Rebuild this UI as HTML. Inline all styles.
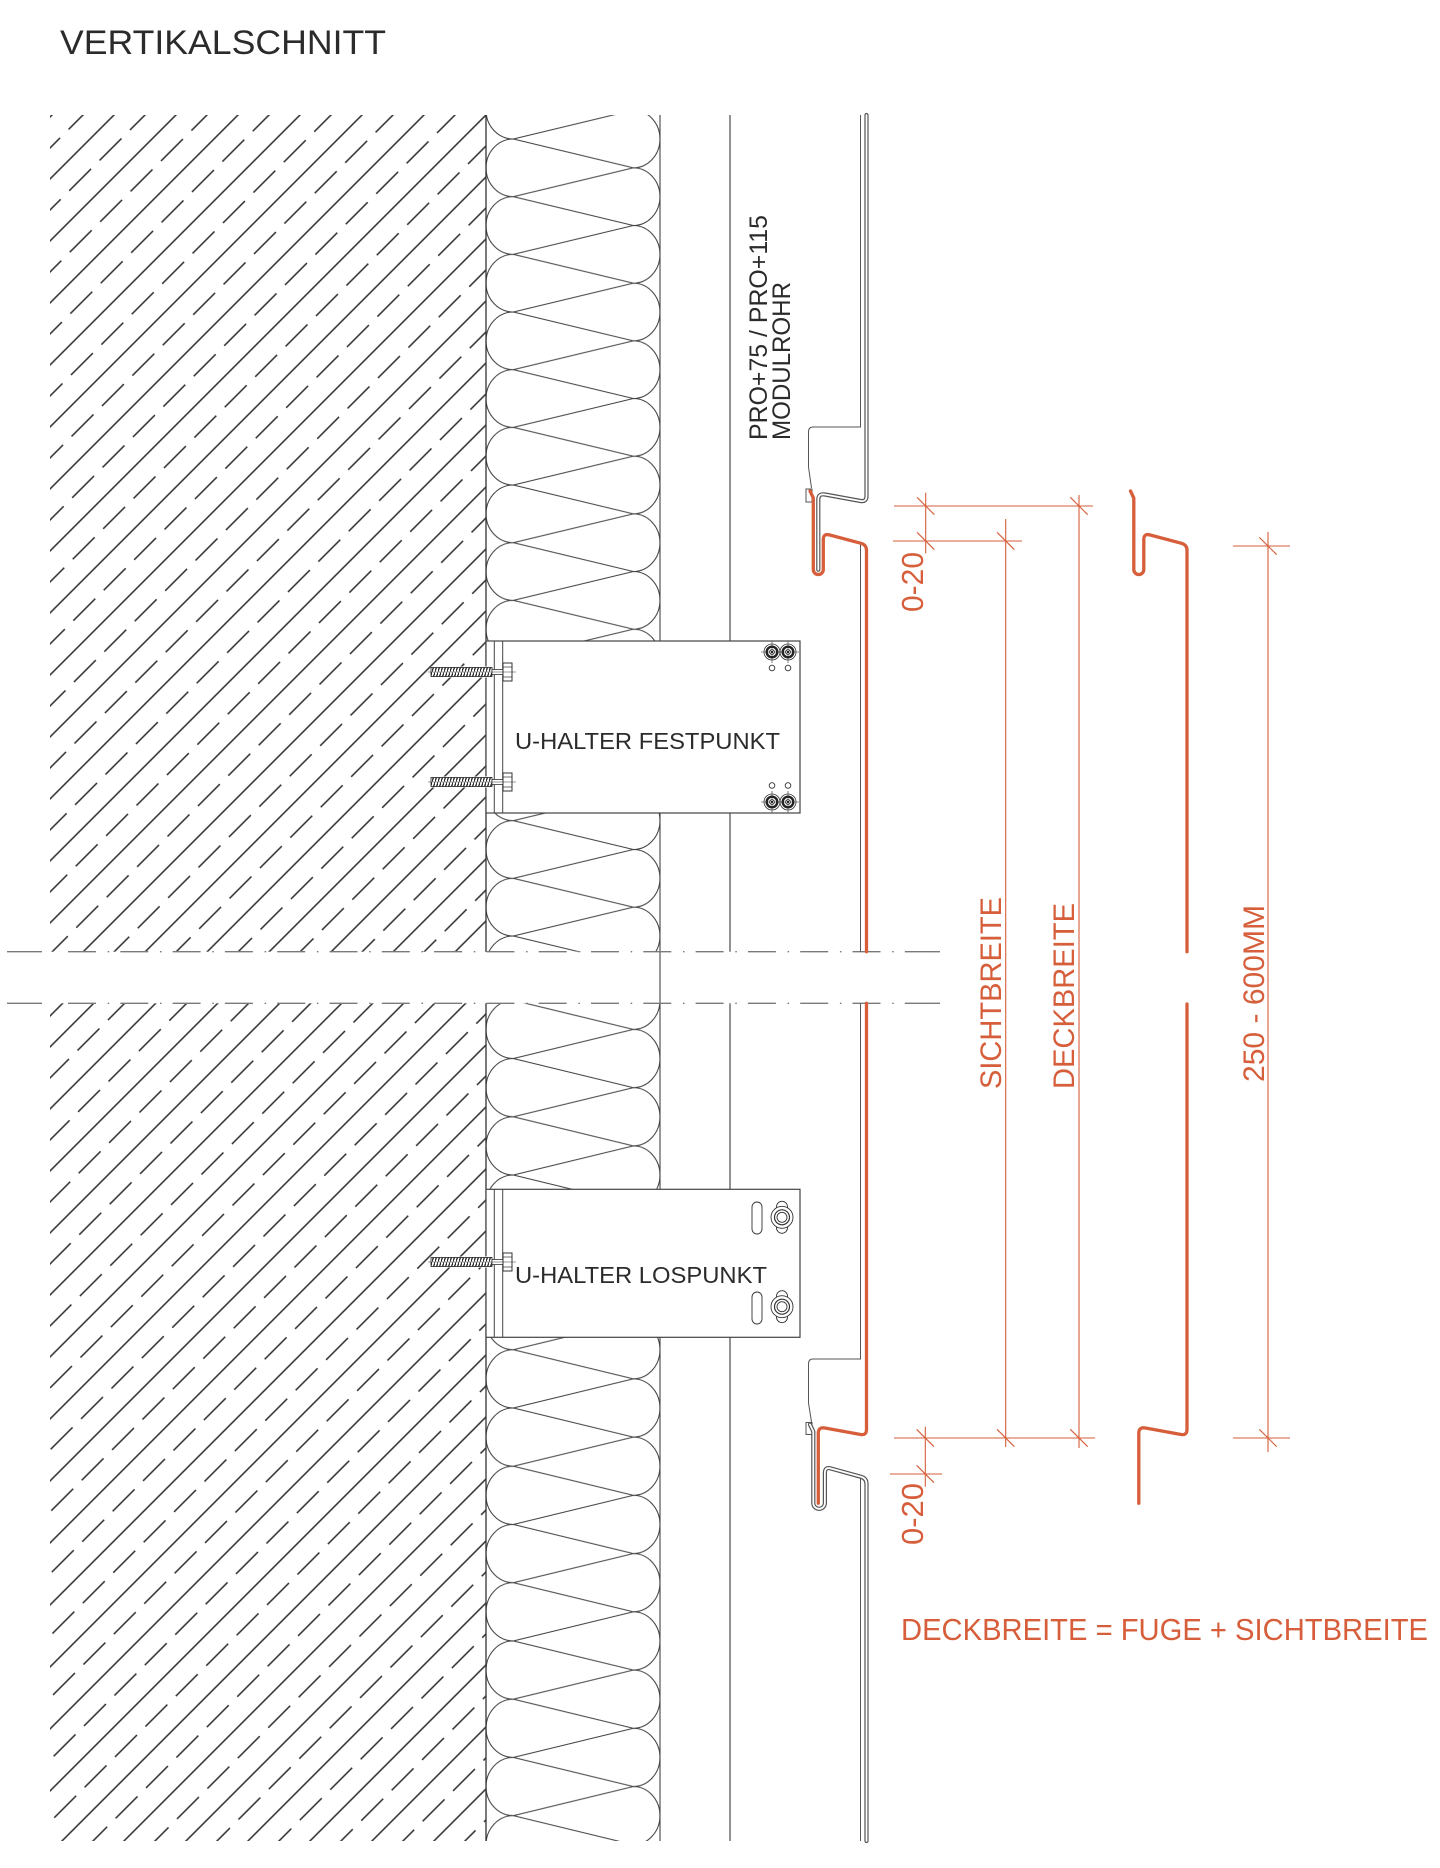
<!DOCTYPE html>
<html>
<head>
<meta charset="utf-8">
<style>
html,body{margin:0;padding:0;background:#fff;width:1440px;height:1868px;overflow:hidden}
svg{display:block}
text{font-family:"Liberation Sans", Arial, sans-serif;}
</style>
</head>
<body>
<svg width="1440" height="1868" viewBox="0 0 1440 1868" xmlns="http://www.w3.org/2000/svg">
<defs>
  <pattern id="hatch" patternUnits="userSpaceOnUse" x="0" y="0" width="43" height="43.84" patternTransform="rotate(-45)">
    <line x1="-1" y1="30.4" x2="44" y2="30.4" stroke="#2a2a2a" stroke-width="1.5"/>
    <line x1="0" y1="8.5" x2="31" y2="8.5" stroke="#2a2a2a" stroke-width="1.5"/>
  </pattern>
  <pattern id="insA" patternUnits="userSpaceOnUse" x="486" y="139" width="174" height="57.67">
    <path d="M27.3,0 L147.3,28.835 L27.3,57.67 M27.3,0 A27.3,28.835 0 0 0 27.3,57.67 M147.3,-28.835 A26.7,28.835 0 0 1 147.3,28.835 A26.7,28.835 0 0 1 147.3,86.505" fill="none" stroke="#444" stroke-width="1.1"/>
  </pattern>
  <pattern id="insB" patternUnits="userSpaceOnUse" x="486" y="936" width="174" height="57.67">
    <path d="M27.3,0 L147.3,28.835 L27.3,57.67 M27.3,0 A27.3,28.835 0 0 0 27.3,57.67 M147.3,-28.835 A26.7,28.835 0 0 1 147.3,28.835 A26.7,28.835 0 0 1 147.3,86.505" fill="none" stroke="#444" stroke-width="1.1"/>
  </pattern>
  <pattern id="insC" patternUnits="userSpaceOnUse" x="486" y="1000.3" width="174" height="58.24">
    <path d="M27.3,0 L147.3,29.12 L27.3,58.24 M27.3,0 A27.3,29.12 0 0 0 27.3,58.24 M147.3,-29.12 A26.7,29.12 0 0 1 147.3,29.12 A26.7,29.12 0 0 1 147.3,87.36" fill="none" stroke="#444" stroke-width="1.1"/>
  </pattern>
  <pattern id="thr" patternUnits="userSpaceOnUse" x="0" y="0" width="3" height="9">
    <line x1="-0.5" y1="9.5" x2="3.5" y2="-0.5" stroke="#222" stroke-width="1.3"/>
  </pattern>
  <g id="screw">
    <rect x="431" y="-5.5" width="61" height="11" fill="#fff"/>
    <rect x="431" y="-4.5" width="61" height="9" fill="url(#thr)" stroke="#222" stroke-width="0.8"/>
    <rect x="492" y="-2.5" width="11" height="5" fill="#fff" stroke="#333" stroke-width="0.8"/>
    <rect x="503" y="-9" width="9" height="18" fill="#fff" stroke="#333" stroke-width="1"/>
    <line x1="503" y1="-5" x2="512" y2="-5" stroke="#333" stroke-width="0.7"/>
    <line x1="503" y1="5" x2="512" y2="5" stroke="#333" stroke-width="0.7"/>
    <line x1="428" y1="0" x2="516" y2="0" stroke="#333" stroke-width="0.6"/>
  </g>
  <g id="bolt">
    <line x1="-11" y1="0" x2="11" y2="0" stroke="#333" stroke-width="0.6"/>
    <line x1="0" y1="-11" x2="0" y2="11" stroke="#333" stroke-width="0.6"/>
    <circle r="8" fill="none" stroke="#333" stroke-width="0.8"/>
    <circle r="5.3" fill="none" stroke="#222" stroke-width="2.4"/>
    <circle r="2.3" fill="#fff" stroke="#222" stroke-width="1"/>
    <rect x="-1" y="-1" width="2" height="2" fill="#222"/>
  </g>
  <g id="nut">
    <rect x="-5.5" y="-16" width="11" height="32" rx="5.5" fill="#fff" stroke="#333" stroke-width="0.9"/>
    <circle r="11" fill="#fff" stroke="#333" stroke-width="0.9"/>
    <circle r="7.5" fill="none" stroke="#333" stroke-width="1.2"/>
    <circle r="5" fill="none" stroke="#333" stroke-width="0.9"/>
  </g>
</defs>

<!-- Title -->
<text x="60" y="54" font-size="34.5" textLength="326" lengthAdjust="spacingAndGlyphs" fill="#2b2b2b">VERTIKALSCHNITT</text>

<!-- Concrete hatch -->
<rect x="50" y="115" width="436" height="836.7" fill="url(#hatch)"/>
<rect x="50" y="1003.3" width="436" height="837.7" fill="url(#hatch)"/>

<!-- Insulation -->
<rect x="486" y="115" width="174" height="526" fill="url(#insA)"/>
<rect x="486" y="813" width="174" height="138.7" fill="url(#insB)"/>
<rect x="486" y="1003.3" width="174" height="837.7" fill="url(#insC)"/>

<!-- Structural vertical lines -->
<g fill="none">
  <line x1="486" y1="115" x2="486" y2="951.7" stroke="#333" stroke-width="1.3"/>
  <line x1="486" y1="1003.3" x2="486" y2="1841" stroke="#333" stroke-width="1.3"/>
  <line x1="660" y1="115" x2="660" y2="1841" stroke="#444" stroke-width="1.1"/>
  <line x1="730" y1="115" x2="730" y2="951.7" stroke="#777" stroke-width="1.6"/>
  <line x1="730" y1="1003.3" x2="730" y2="1841" stroke="#777" stroke-width="1.6"/>
</g>

<!-- Break lines (dash-dot) -->
<g stroke="#7a7a7a" stroke-width="1.4" fill="none">
  <line x1="7" y1="951.7" x2="42" y2="951.7"/>
  <line x1="68" y1="951.7" x2="940" y2="951.7" stroke-dasharray="28 11.7 1.5 11.1"/>
  <line x1="932" y1="951.7" x2="940" y2="951.7"/>
  <line x1="7" y1="1003.3" x2="42" y2="1003.3"/>
  <line x1="68" y1="1003.3" x2="940" y2="1003.3" stroke-dasharray="28 11.7 1.5 11.1"/>
  <line x1="932" y1="1003.3" x2="940" y2="1003.3"/>
</g>

<!-- Bracket Festpunkt -->
<rect x="486" y="641" width="314" height="172" fill="#fff" stroke="#444" stroke-width="1.2"/>
<line x1="494.3" y1="641" x2="494.3" y2="813" stroke="#444" stroke-width="1"/>
<line x1="502.7" y1="641" x2="502.7" y2="813" stroke="#444" stroke-width="1"/>
<use href="#screw" transform="translate(0,672)"/>
<use href="#screw" transform="translate(0,782)"/>
<use href="#bolt" transform="translate(772,652)"/>
<use href="#bolt" transform="translate(788,652)"/>
<use href="#bolt" transform="translate(772,802)"/>
<use href="#bolt" transform="translate(788,802)"/>
<g fill="none" stroke="#333" stroke-width="0.9">
  <circle cx="772" cy="668" r="2.8"/>
  <circle cx="788" cy="668" r="2.8"/>
  <circle cx="772" cy="785.5" r="2.8"/>
  <circle cx="788" cy="785.5" r="2.8"/>
</g>
<text x="515" y="749" font-size="23.5" textLength="265" lengthAdjust="spacingAndGlyphs" fill="#2b2b2b">U-HALTER FESTPUNKT</text>

<!-- Bracket Lospunkt -->
<rect x="486" y="1189.3" width="314" height="148" fill="#fff" stroke="#444" stroke-width="1.2"/>
<line x1="494.3" y1="1189.3" x2="494.3" y2="1337.3" stroke="#444" stroke-width="1"/>
<line x1="502.7" y1="1189.3" x2="502.7" y2="1337.3" stroke="#444" stroke-width="1"/>
<use href="#screw" transform="translate(0,1262)"/>
<rect x="752" y="1202" width="10" height="32" rx="5" fill="#fff" stroke="#333" stroke-width="0.9"/>
<rect x="752" y="1292" width="10" height="32" rx="5" fill="#fff" stroke="#333" stroke-width="0.9"/>
<use href="#nut" transform="translate(782,1217.3)"/>
<use href="#nut" transform="translate(782,1306.7)"/>
<text x="515" y="1283" font-size="23.5" textLength="252" lengthAdjust="spacingAndGlyphs" fill="#2b2b2b">U-HALTER LOSPUNKT</text>

<!-- Modulrohr label -->
<text transform="translate(767,440) rotate(-90)" font-size="25" textLength="225" lengthAdjust="spacingAndGlyphs" fill="#2b2b2b">PRO+75 / PRO+115</text>
<text transform="translate(790,440) rotate(-90)" font-size="25" textLength="158" lengthAdjust="spacingAndGlyphs" fill="#2b2b2b">MODULROHR</text>

<!-- Panel clip thin lines -->
<g fill="none" stroke="#555" stroke-width="1">
  <path d="M860.5,115 V427 H813 Q808.5,427 808.5,432 V467 L811.5,488"/>
  <rect x="806" y="489" width="6" height="13" fill="#fff"/>
  <line x1="860.5" y1="543" x2="860.5" y2="951.7"/>
  <path d="M860.5,1003.3 V1359 H813 Q808.5,1359 808.5,1364 V1403 L811.5,1422"/>
  <rect x="806" y="1422.5" width="6" height="12" fill="#fff"/>
  <line x1="860.5" y1="1477" x2="860.5" y2="1841"/>
</g>

<!-- Upper gray panel (double line) -->
<g fill="none" stroke-linecap="round" stroke-linejoin="round">
  <path d="M866.5,115 V496 Q866.5,502 860.6,501 L825,494.5 Q818.3,493.3 818.3,499.5 V569.8" stroke="#555" stroke-width="4.2"/>
  <path d="M866.5,115 V496 Q866.5,502 860.6,501 L825,494.5 Q818.3,493.3 818.3,499.5 V569.8" stroke="#fff" stroke-width="1.8"/>
  <!-- Lower gray panel -->
  <path d="M810,1424.5 L813.3,1431.5 V1503 A5.8,5.8 0 0 0 824.9,1503 V1473 Q824.9,1466.8 830.5,1468.4 L861,1476.8 Q866.5,1478.3 866.5,1484 V1841" stroke="#555" stroke-width="4.2"/>
  <path d="M810,1424.5 L813.3,1431.5 V1503 A5.8,5.8 0 0 0 824.9,1503 V1473 Q824.9,1466.8 830.5,1468.4 L861,1476.8 Q866.5,1478.3 866.5,1484 V1841" stroke="#fff" stroke-width="1.8"/>
</g>

<!-- Orange panel (main) -->
<path d="M810,491 L813.3,498 V569.5 A5,5 0 0 0 823.3,569.5 V539.5 Q823.3,533.3 829.3,534.9 L861,543.3 Q866.5,544.8 866.5,550.5 V951.7 M866.5,1003.3 V1429.5 Q866.5,1435.5 860.6,1434.5 L825,1428 Q818.3,1426.8 818.3,1433 V1503.3" fill="none" stroke="#D65E3A" stroke-width="3.3" stroke-linecap="round" stroke-linejoin="round"/>

<!-- Orange panel (right profile) -->
<path d="M1130.5,491 L1133.8,498 V569.5 A5,5 0 0 0 1143.8,569.5 V539.5 Q1143.8,533.3 1149.8,534.9 L1181.5,543.3 Q1187,544.8 1187,550.5 V951.7 M1187,1004 V1429.5 Q1187,1435.5 1181.1,1434.5 L1145.5,1428 Q1138.8,1426.8 1138.8,1433 V1503.3" fill="none" stroke="#D65E3A" stroke-width="3.3" stroke-linecap="round" stroke-linejoin="round"/>

<!-- Dimension lines -->
<g stroke="#D65E3A" stroke-width="1.1" fill="none">
  <line x1="894" y1="506" x2="1093" y2="506"/>
  <line x1="893" y1="541" x2="1022" y2="541"/>
  <line x1="894" y1="1438" x2="1095" y2="1438"/>
  <line x1="890" y1="1474" x2="942" y2="1474"/>
  <line x1="1233" y1="546" x2="1290" y2="546"/>
  <line x1="1233" y1="1438" x2="1290" y2="1438"/>
  <line x1="925.7" y1="492.7" x2="925.7" y2="553.3"/>
  <line x1="1005.7" y1="519" x2="1005.7" y2="1447"/>
  <line x1="1079" y1="495" x2="1079" y2="1448"/>
  <line x1="925.3" y1="1426.7" x2="925.3" y2="1486.7"/>
  <line x1="1268" y1="532" x2="1268" y2="1452"/>
  <!-- ticks -->
  <line x1="917" y1="497.3" x2="934.4" y2="514.7"/>
  <line x1="1070.3" y1="497.3" x2="1087.7" y2="514.7"/>
  <line x1="917" y1="532.3" x2="934.4" y2="549.7"/>
  <line x1="997" y1="532.3" x2="1014.4" y2="549.7"/>
  <line x1="916.6" y1="1429.3" x2="934" y2="1446.7"/>
  <line x1="997" y1="1429.3" x2="1014.4" y2="1446.7"/>
  <line x1="1070.3" y1="1429.3" x2="1087.7" y2="1446.7"/>
  <line x1="916.6" y1="1465.3" x2="934" y2="1482.7"/>
  <line x1="1259.3" y1="537.3" x2="1276.7" y2="554.7"/>
  <line x1="1259.3" y1="1429.3" x2="1276.7" y2="1446.7"/>
</g>

<!-- Dimension texts -->
<g fill="#D65E3A">
  <text transform="translate(923,612) rotate(-90)" font-size="31" textLength="60" lengthAdjust="spacingAndGlyphs">0-20</text>
  <text transform="translate(923,1545) rotate(-90)" font-size="31" textLength="62" lengthAdjust="spacingAndGlyphs">0-20</text>
  <text transform="translate(1001,1089) rotate(-90)" font-size="30" textLength="192" lengthAdjust="spacingAndGlyphs">SICHTBREITE</text>
  <text transform="translate(1074,1089) rotate(-90)" font-size="30" textLength="186" lengthAdjust="spacingAndGlyphs">DECKBREITE</text>
  <text transform="translate(1264,1082) rotate(-90)" font-size="30" textLength="177" lengthAdjust="spacingAndGlyphs">250 - 600MM</text>
  <text x="901" y="1640" font-size="31" textLength="527" lengthAdjust="spacingAndGlyphs">DECKBREITE = FUGE + SICHTBREITE</text>
</g>
</svg>
</body>
</html>
